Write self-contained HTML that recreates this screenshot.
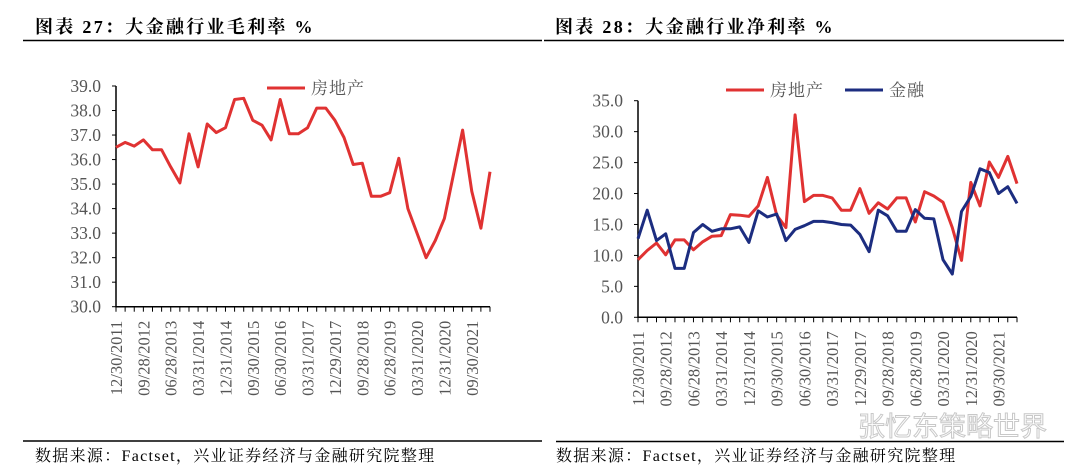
<!DOCTYPE html>
<html><head><meta charset="utf-8">
<style>
body{margin:0;background:#fff;width:1080px;height:476px;overflow:hidden;font-family:"Liberation Serif","Noto Serif CJK SC",serif;}
svg{display:block}
</style></head>
<body>
<svg id="s" width="1080" height="476">
  <text x="35" y="33" font-size="18" letter-spacing="2.3" font-weight="bold" fill="#000">图表 27：大金融行业毛利率  %</text>
  <line x1="23" y1="40.5" x2="542" y2="40.5" stroke="#000" stroke-width="1.5"/>
  <text x="555" y="33" font-size="18" letter-spacing="2.3" font-weight="bold" fill="#000">图表 28：大金融行业净利率  %</text>
  <line x1="544" y1="40.5" x2="1064" y2="40.5" stroke="#000" stroke-width="1.5"/>
  <line x1="23" y1="441" x2="542" y2="441" stroke="#000" stroke-width="1.5"/>
  <line x1="556" y1="441.5" x2="1064" y2="441.5" stroke="#000" stroke-width="1.5"/>
  <text x="35" y="461" font-size="16" letter-spacing="1.3" fill="#000">数据来源：Factset，兴业证券经济与金融研究院整理</text>
  <text x="556" y="461" font-size="16" letter-spacing="1.3" fill="#000">数据来源：Factset，兴业证券经济与金融研究院整理</text>
  <text x="858" y="436" font-size="27" fill="#fff" stroke="#c8c8c8" stroke-width="1" font-family="Liberation Sans,Noto Sans CJK SC,sans-serif">张忆东策略世界</text>
  <g id="L"></g><g id="R"></g>
</svg>
<script>
const xLabels=["12/30/2011","09/28/2012","06/28/2013","03/31/2014","12/31/2014","09/30/2015","06/30/2016","03/31/2017","12/29/2017","09/28/2018","06/28/2019","03/31/2020","12/31/2020","09/30/2021"];
const grossRE=[36.5,36.7,36.55,36.8,36.4,36.4,35.7,35.05,37.05,35.7,37.45,37.1,37.3,38.45,38.5,37.6,37.4,36.8,38.45,37.05,37.05,37.3,38.1,38.1,37.6,36.9,35.8,35.85,34.5,34.5,34.65,36.05,34.0,33.0,32.0,32.7,33.6,35.4,37.2,34.7,33.2,35.5];
const netRE=[9.3,10.8,12.0,10.1,12.5,12.5,10.9,12.2,13.1,13.2,16.6,16.5,16.3,18.0,22.6,16.5,14.5,32.7,18.7,19.7,19.7,19.3,17.3,17.3,20.8,16.8,18.5,17.5,19.3,19.3,15.4,20.3,19.6,18.6,14.5,9.2,21.8,18.0,25.1,22.6,26.0,21.6];
const netFin=[12.7,17.3,12.4,13.5,7.9,7.9,13.7,15.0,13.9,14.3,14.3,14.6,12.1,17.2,16.2,16.7,12.4,14.2,14.8,15.5,15.5,15.3,15.0,14.9,13.4,10.6,17.3,16.4,13.9,13.9,17.4,16.0,15.9,9.3,7.0,17.1,19.5,24.0,23.4,20.0,21.1,18.4];
const leftTicks=[30,31,32,33,34,35,36,37,38,39];
const rightTicks=[0,5,10,15,20,25,30,35];
const NS="http://www.w3.org/2000/svg";
function mk(p,t,a,txt){const e=document.createElementNS(NS,t);for(const k in a)e.setAttribute(k,a[k]);if(txt!=null)e.textContent=txt;p.appendChild(e);return e;}
function chart(g,o){
  const n=o.series[0].data.length;
  const xs=i=>o.x0+(o.x1-o.x0)*i/(n-1);
  const ys=v=>o.y0+(o.y1-o.y0)*(v-o.vmin)/(o.vmax-o.vmin);
  const ax=mk(g,'path',{d:`M${o.x0},${ys(o.vmax)}V${o.y0}H${o.x1}`,stroke:'#000','stroke-width':1.5,fill:'none'});
  
  for(const t of o.ticks){
    const tk=mk(g,'line',{x1:o.x0-4,x2:o.x0,y1:ys(t),y2:ys(t),stroke:'#000','stroke-width':1});
    
    const tl=mk(g,'text',{x:o.x0-15,y:ys(t)+6,'text-anchor':'end','font-size':17.5,fill:'#555'},t.toFixed(1));
    
  }
  for(let i=0;i<n;i++){
    const tk=mk(g,'line',{x1:xs(i),x2:xs(i),y1:o.y0,y2:o.y0+5,stroke:'#000','stroke-width':1});
    
  }
  xLabels.forEach((l,j)=>{
    const x=xs(j*3)+6;
    const tl=mk(g,'text',{x:0,y:0,transform:`translate(${x},${o.y0+14}) rotate(-90)`,'text-anchor':'end','font-size':16.5,fill:'#555'},l);
    
  });
  for(const s of o.series){
    const p=mk(g,'polyline',{points:s.data.map((v,i)=>xs(i).toFixed(1)+','+ys(v).toFixed(1)).join(' '),fill:'none',stroke:s.color,'stroke-width':3,'stroke-linejoin':'round'});
    
    const ll=mk(g,'line',{x1:s.lx,x2:s.lx+38,y1:s.ly,y2:s.ly,stroke:s.color,'stroke-width':3});
    
    const lt=mk(g,'text',{x:s.lx+44,y:s.ly+6,'font-size':17,'letter-spacing':1,fill:'#555','font-family':'Noto Serif CJK SC,serif'},s.label);
    
  }
}
chart(document.getElementById('L'),{x0:116,x1:490,y0:306.7,y1:86,vmin:30,vmax:39,ticks:leftTicks,
  series:[{data:grossRE,color:'#e03232',name:'real-estate-gross',label:'房地产',lx:267,ly:88}]});
chart(document.getElementById('R'),{x0:638,x1:1017,y0:317.3,y1:100.7,vmin:0,vmax:35,ticks:rightTicks,
  series:[{data:netRE,color:'#e03232',name:'real-estate-net',label:'房地产',lx:726,ly:90},
          {data:netFin,color:'#1c2d80',name:'finance-net',label:'金融',lx:845,ly:90}]});
</script>
</body></html>
